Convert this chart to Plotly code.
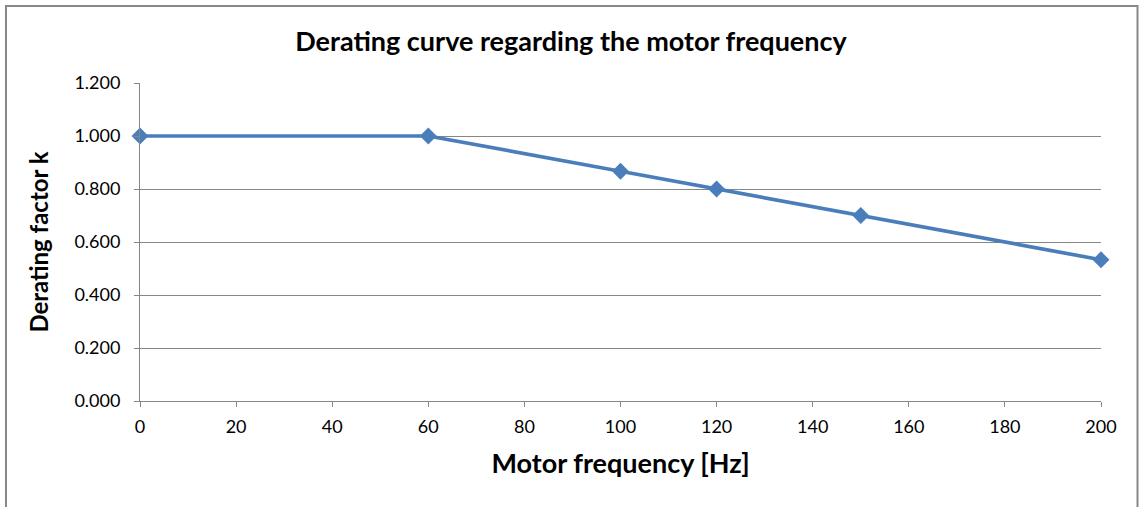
import plotly.graph_objects as go

freq = [0, 60, 100, 120, 150, 200]
factor = [1.0, 1.0, 0.867, 0.8, 0.7, 0.533]
y_ticks = [0, 0.2, 0.4, 0.6, 0.8, 1.0, 1.2]
y_labels = ["0.000", "0.200", "0.400", "0.600", "0.800", "1.000", "1.200"]
x_ticks = list(range(0, 201, 20))

FONT = "Lato, Open Sans, sans-serif"

fig = go.Figure()
fig.add_trace(go.Scatter(
    x=freq, y=factor, mode="lines+markers",
    line=dict(color="#4A7EBB", width=3.7),
    marker=dict(symbol="diamond", size=13, color="#4A7EBB"),
    showlegend=False, hoverinfo="x+y", cliponaxis=False,
))

fig.update_layout(
    width=1139, height=507,
    margin=dict(l=140, r=38, t=83, b=106),
    paper_bgcolor="white", plot_bgcolor="white",
    title=dict(text="<b>Derating curve regarding the motor frequency</b>",
               x=571/1139, xanchor="center", y=1-42/507, yanchor="middle",
               font=dict(family=FONT, size=27, color="black")),
    font=dict(family=FONT, color="black"),
    xaxis=dict(range=[0, 200], tickvals=x_ticks, showgrid=False, zeroline=False,
               showline=True, linecolor="#868686", linewidth=1,
               ticks="outside", ticklen=5, tickcolor="#868686",
               ticklabelstandoff=4,
               tickfont=dict(size=18, family=FONT, color="black"),
               title=dict(text="<b>Motor frequency [Hz]</b>", standoff=18,
                          font=dict(size=27, family=FONT, color="black"))),
    yaxis=dict(range=[0, 1.2], tickvals=y_ticks, ticktext=y_labels,
               showgrid=True, gridcolor="#868686", gridwidth=1, zeroline=False,
               showline=True, linecolor="#868686", linewidth=1,
               ticks="outside", ticklen=5, tickcolor="#868686",
               ticklabelstandoff=10,
               tickfont=dict(size=18, family=FONT, color="black"),
               title=dict(text="<b>Derating factor k</b>", standoff=18,
                          font=dict(size=24, family=FONT, color="black"))),
)

fig.add_shape(type="rect", xref="paper", yref="paper",
              x0=(6-140)/961, x1=(1137.5-140)/961,
              y0=-0.6, y1=(401-6)/318,
              line=dict(color="#888888", width=2), fillcolor="rgba(0,0,0,0)", layer="below")

fig.write_html("out.html")
